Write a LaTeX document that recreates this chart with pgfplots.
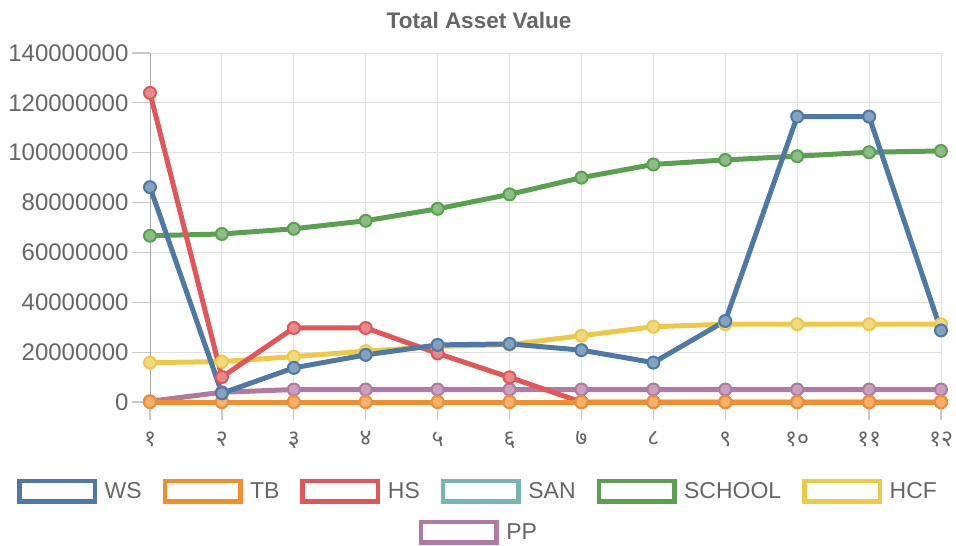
\documentclass[border=0pt]{standalone}
\usepackage{fontspec}
\setmainfont{Liberation Sans}
\newfontfamily\deva[Script=Devanagari]{Noto Sans}
\usepackage{pgfplots}
\usepackage{pgfplotstable}
\pgfplotsset{compat=1.18}
\definecolor{wsc}{HTML}{4E79A7}
\definecolor{tbc}{HTML}{F28E2B}
\definecolor{hsc}{HTML}{E15759}
\definecolor{sanc}{HTML}{76B7B2}
\definecolor{schc}{HTML}{59A14F}
\definecolor{hcfc}{HTML}{EDC948}
\definecolor{ppc}{HTML}{B07AA1}
\definecolor{txt}{HTML}{666666}
\definecolor{gridc}{HTML}{E0E0E0}
\definecolor{tickc}{HTML}{C8C8C8}
\definecolor{axc}{HTML}{A8A8A8}

\pgfplotstableread{
x ws tb hs san school hcf pp
1 86200000 0 124000000 0 66700000 15800000 300000
2 3500000 0 10000000 0 67400000 16200000 3900000
3 13700000 0 29700000 0 69500000 18200000 5000000
4 18900000 0 29700000 0 72700000 20400000 5000000
5 22900000 0 19500000 0 77500000 22300000 5000000
6 23300000 0 9900000 0 83300000 23000000 5000000
7 20800000 0 0 0 90000000 26600000 5000000
8 15800000 0 0 0 95300000 30200000 5000000
9 32500000 0 0 0 97100000 31200000 5000000
10 114500000 0 0 0 98600000 31200000 5000000
11 114500000 0 0 0 100200000 31200000 5000000
12 28700000 0 0 0 100700000 31200000 5000000
}\data

\pgfplotsset{
  ser/.style={draw=#1, line width=5pt, line join=round, mark=*, mark size=6pt,
    mark options={draw=#1, fill=#1!70!white, line width=2pt}, forget plot},
  legbox/.style={legend image code/.code={\draw[draw=#1, line width=4.5pt, fill=white] (0pt,-10.25pt) rectangle (75.5pt,10.25pt); \path (83pt,0pt);}},
  myleg/.style={draw=none, fill=none, font=\fontsize{23}{27}\selectfont, text=txt,
    /tikz/every even column/.append style={column sep=19pt}},
}

\begin{document}
\begin{tikzpicture}
\path[use as bounding box] (0pt,0pt) rectangle (956pt,-546pt);
\node[anchor=base, font=\bfseries\fontsize{22.5}{26}\selectfont, text=txt] at (479pt,-28pt) {Total Asset Value};
\begin{axis}[
  at={(150pt,-402pt)}, anchor=south west,
  scale only axis, width=791pt, height=349pt,
  xmin=1, xmax=12, ymin=0, ymax=140000000,
  clip=false,
  axis line style={draw=gridc, line width=1pt},
  xtick pos=bottom, ytick pos=left,
  tick align=outside,
  major tick length=18pt,
  every tick/.style={draw=tickc, line width=1.2pt},
  xtick={1,...,12},
  xticklabels={{\deva १},{\deva २},{\deva ३},{\deva ४},{\deva ५},{\deva ६},{\deva ७},{\deva ८},{\deva ९},{\deva १०},{\deva ११},{\deva १२}},
  ytick={0,20000000,40000000,60000000,80000000,100000000,120000000,140000000},
  yticklabels={0,20000000,40000000,60000000,80000000,100000000,120000000,140000000},
  scaled y ticks=false,
  tick label style={text=txt},
  yticklabel style={font=\fontsize{24}{28}\selectfont},
  xticklabel style={font=\fontsize{23}{27}\selectfont, yshift=-8pt},
  grid=major, major grid style={draw=gridc, line width=1pt},
  legend columns=6,
  legend style={myleg, at={(0.4147,-0.255)}, anchor=center},
]
\draw[axc, line width=1pt] (axis cs:1,0) -- (axis cs:1,140000000);
\addplot[ser=ppc] table[x=x,y=pp]{\data};
\addplot[ser=hcfc] table[x=x,y=hcf]{\data};
\addplot[ser=schc] table[x=x,y=school]{\data};
\addplot[ser=sanc] table[x=x,y=san]{\data};
\addplot[ser=hsc] table[x=x,y=hs]{\data};
\addplot[ser=tbc] table[x=x,y=tb]{\data};
\addplot[ser=wsc] table[x=x,y=ws]{\data};
\addlegendimage{legbox=wsc}\addlegendentry{WS}
\addlegendimage{legbox=tbc}\addlegendentry{TB}
\addlegendimage{legbox=hsc}\addlegendentry{HS}
\addlegendimage{legbox=sanc}\addlegendentry{SAN}
\addlegendimage{legbox=schc}\addlegendentry{SCHOOL}
\addlegendimage{legbox=hcfc}\addlegendentry{HCF}
\end{axis}
\begin{axis}[
  at={(479pt,-532pt)}, anchor=center, hide axis,
  scale only axis, width=10pt, height=10pt,
  xmin=0, xmax=1, ymin=0, ymax=1,
  legend style={myleg, at={(0.5,0.5)}, anchor=center},
]
\addlegendimage{legbox=ppc}\addlegendentry{PP}
\end{axis}
\end{tikzpicture}
\end{document}
